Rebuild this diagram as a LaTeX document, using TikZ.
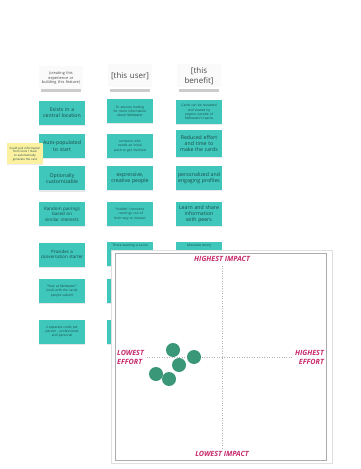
\documentclass[tikz,border=0pt]{standalone}
\usepackage{fontspec}
\setmainfont{Open Sans}
\usetikzlibrary{shadows}
\begin{document}
\begin{tikzpicture}[x=1bp,y=-1bp,
  sticky/.style={fill=stickyteal, text=stickytext, align=center, inner sep=1pt,
    minimum width=46bp, minimum height=24bp, text width=44bp,
    drop shadow={opacity=0.18, shadow xshift=0bp, shadow yshift=-1.2bp}},
  bigtxt/.style={font=\fontsize{5.2}{6.2}\selectfont},
  smalltxt/.style={font=\fontsize{3.3}{4.2}\selectfont, text width=36bp},
  header/.style={fill=gray!4, text=headertext, align=center, inner sep=1pt,
    minimum width=44bp, minimum height=23bp, text width=42bp},
  axislabel/.style={text=axispink, font=\fontsize{7.2}{8.6}\selectfont\bfseries\itshape, inner sep=0pt},
  dot/.style={circle, fill=dotgreen, minimum size=14bp, inner sep=0pt},
  guide/.style={gray!60, line width=0.5pt, dotted}
]
\hyphenpenalty=10000
\exhyphenpenalty=10000
\definecolor{stickyteal}{HTML}{3FC7BB}
\definecolor{stickytext}{HTML}{1D4A48}
\definecolor{headertext}{HTML}{4A4A4A}
\definecolor{axispink}{HTML}{C72A6C}
\definecolor{dotgreen}{HTML}{3A9878}
\definecolor{notefill}{HTML}{FBF1A0}

\useasboundingbox (0,0) rectangle (360,469);
\fill[white] (0,0) rectangle (360,469);

% soft shadows under header cards
\foreach \cx in {61,130,199}{
  \fill[gray!40] (\cx-20,89.5) rectangle (\cx+20,92.5);
}
\node[header, font=\fontsize{3.9}{4.8}\selectfont] (h1) at (61,78) {(creating this experience or building this feature)};
\node[header, font=\fontsize{8}{9.4}\selectfont] (h2) at (130,76) {[this user]};
\node[header, font=\fontsize{8}{9.4}\selectfont] (h3) at (199,76) {[this benefit]};

% first column: what is being built
\node[sticky, bigtxt] (a1) at (62,113) {Exists in a central location};
\node[sticky, bigtxt] (a2) at (62,146) {Auto-populated to start};
\node[sticky, bigtxt] (a3) at (62,178.5) {Optionally customizable};
\node[sticky, font=\fontsize{4.5}{5.5}\selectfont] (a4) at (62,214) {Random pairings based on similar interests};
\node[sticky, font=\fontsize{4.5}{5.5}\selectfont] (a5) at (62,254.5) {Provides a conversation starter};
\node[sticky, smalltxt] (a6) at (62,291) {“Year at Meltwater” book with the cards people submit};
\node[sticky, smalltxt] (a7) at (62,331.5) {2 separate cards per person - professional and personal};

% side note
\node[fill=notefill, text=stickytext, font=\fontsize{2.9}{3.7}\selectfont, align=center, text width=34bp,
  minimum width=36bp, minimum height=21bp, inner sep=1pt,
  drop shadow={opacity=0.15, shadow xshift=0bp, shadow yshift=-1bp}] (note) at (25,154)
  {Could pull information from tools / Slack to automatically generate the card};

% second column: the users
\node[sticky, smalltxt] (b1) at (130,111) {To anyone looking for more information about Meltwater};
\node[sticky, smalltxt] (b2) at (130,146) {someone who needs an initial push to get involved};
\node[sticky, bigtxt] (b3) at (130,178) {expressive, creative people};
\node[sticky, smalltxt] (b4) at (130,214) {“hidden” introverts - won't go out of their way to interact};
\node[sticky, smalltxt, anchor=north, text depth=18bp] (b5) at (130,242) {Those wanting a social};
\node[sticky] (b6) at (130,291) {};
\node[sticky] (b7) at (130,331.5) {};

% third column: the benefits
\node[sticky, smalltxt] (c1) at (199,112) {Cards can be reviewed and viewed by anyone outside of Meltwater's teams};
\node[sticky, bigtxt, minimum height=27bp] (c2) at (199,143.5) {Reduced effort and time to make the cards};
\node[sticky, bigtxt] (c3) at (199,178) {personalized and engaging profiles};
\node[sticky, bigtxt] (c4) at (199,214) {Learn and share information with peers};
\node[sticky, smalltxt, anchor=north, text depth=18bp] (c5) at (199,242) {Alleviates worry};

% impact / effort matrix
\fill[white] (111,250) rectangle (332,463);
\draw[gray!25, line width=1pt] (111,250) rectangle (332,463);
\draw[gray!65, line width=0.8pt] (115,253) rectangle (326,460);

\coordinate (vtop) at (222,266);
\coordinate (vbot) at (222,449);
\coordinate (hleft) at (147,357);
\coordinate (hright) at (293,357);
\draw[guide] (vtop) -- (vbot);
\draw[guide] (hleft) -- (hright);

\node[axislabel] (hi) at (222,259) {HIGHEST IMPACT};
\node[axislabel] (li) at (222,454) {LOWEST IMPACT};
\node[axislabel, anchor=west, align=left] (le) at (117,357.5) {LOWEST\\EFFORT};
\node[axislabel, anchor=east, align=right] (he) at (324,357.5) {HIGHEST\\EFFORT};

\node[dot] (d1) at (173,350) {};
\node[dot] (d2) at (194,357) {};
\node[dot] (d3) at (179,365) {};
\node[dot] (d4) at (156,374) {};
\node[dot] (d5) at (169,379) {};
\end{tikzpicture}
\end{document}
